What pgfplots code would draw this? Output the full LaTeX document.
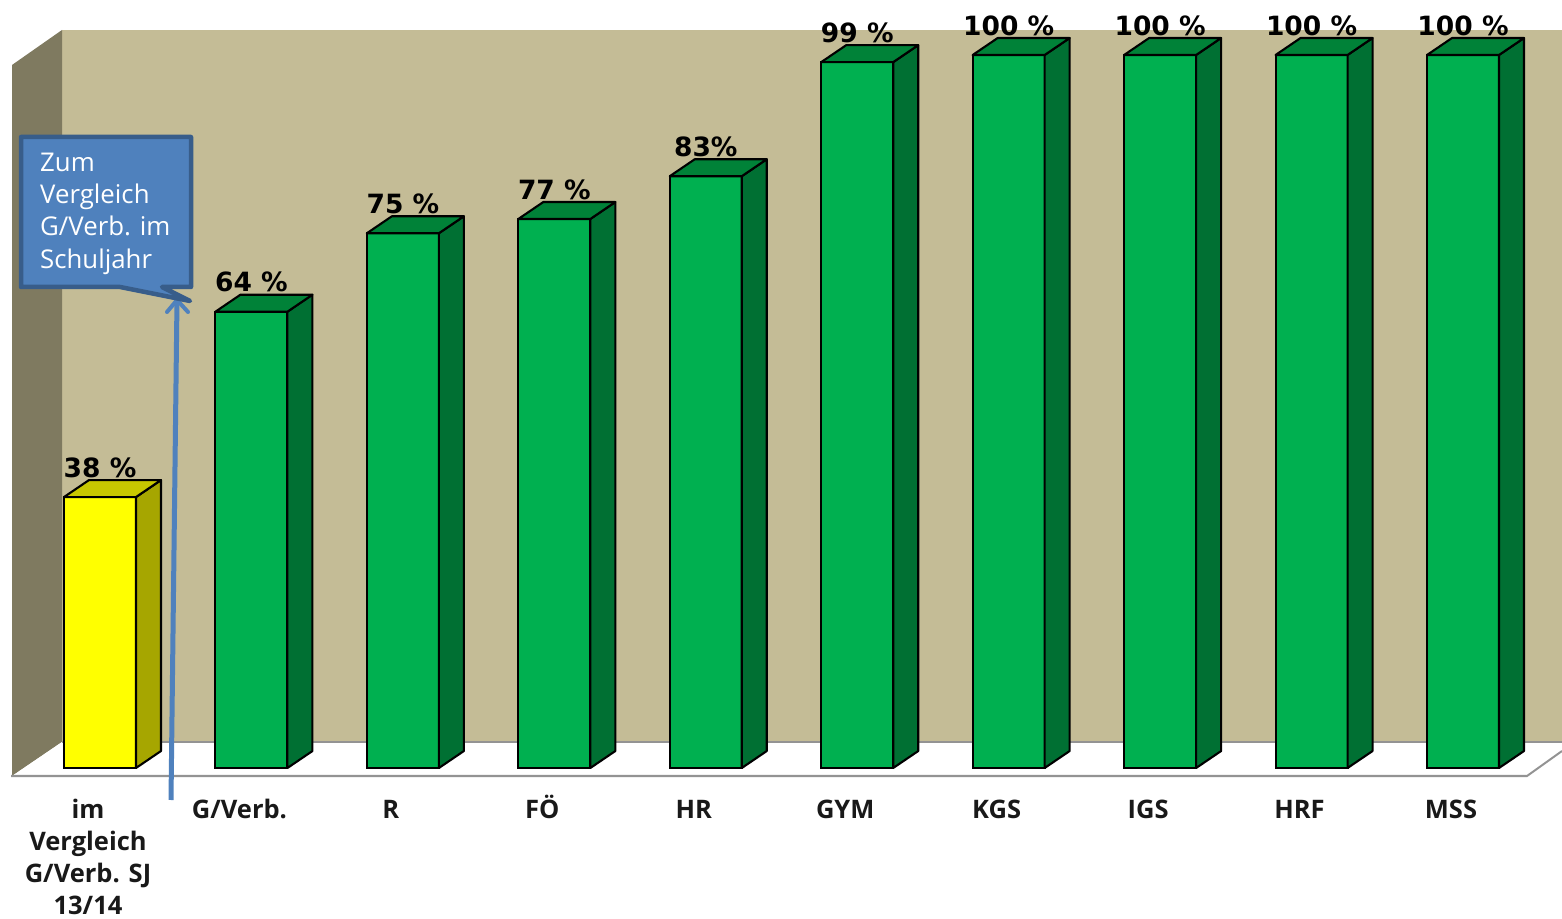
\documentclass[border=0pt]{standalone}
\usepackage{pgfplots}
\pgfplotsset{compat=1.18}
\usepackage{fontspec}
\setmainfont{Open Sans}
\newfontfamily\lab{DejaVu Sans}
\usetikzlibrary{arrows.meta}
\definecolor{wall}{HTML}{C4BC96}
\definecolor{lwall}{HTML}{7F7A60}
\definecolor{gfront}{HTML}{00B050}
\definecolor{gside}{HTML}{007033}
\definecolor{gtop}{HTML}{008238}
\definecolor{yfront}{HTML}{FFFF00}
\definecolor{yside}{HTML}{A6A600}
\definecolor{ytop}{HTML}{C8C800}
\definecolor{boxfill}{HTML}{4F81BD}
\definecolor{boxline}{HTML}{385D8A}
\newcommand{\bardd}[6]{%
  \pgfmathsetmacro\xl{#1-0.2377}%
  \pgfmathsetmacro\xr{#1+0.2377}%
  \pgfmathsetmacro\xrb{#1+0.2377+0.165}%
  \pgfmathsetmacro\xlb{#1-0.2377+0.165}%
  \pgfmathsetmacro\yt{#2+2.38}%
  \addplot[draw=black,line width=2.1pt,fill=#3,ybar,bar width=72pt,bar shift=0pt] coordinates {(#1,#2)};
  \addplot[draw=black,line width=2.1pt,fill=#4,line join=round] coordinates {(\xr,0) (\xrb,2.38) (\xrb,\yt) (\xr,#2)} --cycle;
  \addplot[draw=black,line width=2.1pt,fill=#5,line join=round] coordinates {(\xl,#2) (\xlb,\yt) (\xrb,\yt) (\xr,#2)} --cycle;
  \node[font=\lab\bfseries\fontsize{26.5}{30}\selectfont,text=black,inner sep=0pt] at (axis cs:#1,#2+4.15) {#6};
}
\begin{document}
\begin{tikzpicture}[x=1pt,y=1pt]
\useasboundingbox (0,0) rectangle (1562,918);
% chart walls and floor
\fill[wall] (62,888) rectangle (1562,176);
\fill[lwall] (12,853) -- (62,888) -- (62,176) -- (12,142) -- cycle;
\fill[white] (12,142) -- (62,176) -- (1562,176) -- (1562,168) -- (1527,142) -- cycle;
\draw[gray!85,line width=2pt] (62,176) -- (1562,176);
\draw[gray!85,line width=2pt] (11,142) -- (1527,142) -- (1562,167);
\begin{axis}[
  at={(0,0)},anchor=south west,
  scale only axis,width=1562pt,height=918pt,
  xmin=-0.6603,xmax=9.6537,ymin=-21.038,ymax=107.714,
  clip=false,
  axis x line=middle,axis y line=none,
  x axis line style={draw=none,-},
  major tick style={draw=none},
  ytick=\empty,
  xtick={0,1,2,3,4,5,6,7,8,9},
  xticklabels={{\rule{0pt}{24pt}im\\Vergleich\\G/Verb. SJ\\13/14},\rule{0pt}{24pt}G/Verb.,\rule{0pt}{24pt}R,\rule{0pt}{24pt}FÖ,\rule{0pt}{24pt}HR,\rule{0pt}{24pt}GYM,\rule{0pt}{24pt}KGS,\rule{0pt}{24pt}IGS,\rule{0pt}{24pt}HRF,\rule{0pt}{24pt}MSS},
  xticklabel style={font=\bfseries\fontsize{25.5}{32}\selectfont,text=black!90,align=center,anchor=north,xshift=-12pt,yshift=-24.5pt,inner sep=0pt},
]
\bardd{0}{38}{yfront}{yside}{ytop}{38 \%}
\bardd{1}{64}{gfront}{gside}{gtop}{64 \%}
\bardd{2}{75}{gfront}{gside}{gtop}{75 \%}
\bardd{3}{77}{gfront}{gside}{gtop}{77 \%}
\bardd{4}{83}{gfront}{gside}{gtop}{83\%}
\bardd{5}{99}{gfront}{gside}{gtop}{99 \%}
\bardd{6}{100}{gfront}{gside}{gtop}{100 \%}
\bardd{7}{100}{gfront}{gside}{gtop}{100 \%}
\bardd{8}{100}{gfront}{gside}{gtop}{100 \%}
\bardd{9}{100}{gfront}{gside}{gtop}{100 \%}
\end{axis}
% arrow and callout
\draw[boxfill,line width=5pt] (171,118) -- (177,618);
\draw[boxfill,line width=4pt,line cap=round,line join=round] (167,606) -- (177,618) -- (188,606);
\draw[boxline,line width=4.5pt,fill=boxfill,line join=round]
  (21,631) -- (21,781) -- (191,781) -- (191,631) -- (162,631) -- (190,617) -- (120,631) -- cycle;
\node[anchor=west,text=white,font=\fontsize{25.8}{32.3}\selectfont,align=left,inner sep=0pt] at (40,704.5) {Zum\\Vergleich\\G/Verb. im\\Schuljahr};
\end{tikzpicture}
\end{document}
